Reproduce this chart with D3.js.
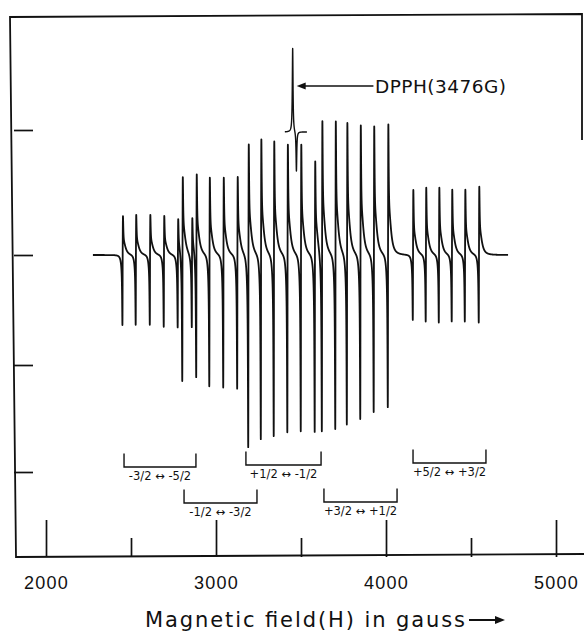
<!DOCTYPE html>
<html>
<head>
<meta charset="utf-8">
<script src="https://cdn.jsdelivr.net/npm/d3@7"></script>
<style>
  body { margin: 0; background: #fff; }
  svg { display: block; font-family: "DejaVu Sans", sans-serif; }
  .trace { fill: none; stroke: #111; stroke-width: 1.8; stroke-linejoin: round; }
  .frame { fill: none; stroke: #111; stroke-width: 1.8; }
  .axis path { display: none; }
  .axis line { stroke: #111; stroke-width: 1.7; }
  .axis text { fill: #111; font-size: 18px; letter-spacing: 1.2px; }
  .bracket { fill: none; stroke: #111; stroke-width: 1.4; }
  .blabel { font-size: 11.5px; fill: #111; }
</style>
</head>
<body>
<svg id="chart" width="584" height="631"></svg>
<script>
/* global d3 */
// field axis (gauss)
var fieldTicksMajor = [2000, 3000, 4000, 5000];
var fieldTicksMinor = [2500, 3500, 4500];
// left side ticks (arbitrary intensity units, 0 = baseline)
var intensityTicks = [12.5, 0, -11, -21.7];

// sweep of the recorder trace
var sweepStart = 2276;
var sweepEnd = 4718;

// hyperfine lines: field of the crossing, height of upper and lower lobe
var lineField = [
  2451, 2529, 2612, 2694, 2776, 2859,
  2803, 2885, 2962, 3044, 3126,
  3191, 3265, 3341, 3421, 3500, 3582,
  3624, 3703, 3771, 3850, 3929, 4012,
  4159, 4235, 4312, 4388, 4465, 4547
];
var lineTop = [
  3.9, 4.0, 4.0, 3.9, 3.8, 3.8,
  7.5, 7.7, 7.7, 7.7, 7.8,
  11.0, 11.5, 11.3, 11.0, 11.0, 9.4,
  13.1, 13.3, 13.1, 12.9, 12.8, 13.0,
  6.5, 6.7, 6.7, 6.5, 6.5, 6.8
];
var lineBottom = [
  -7.0, -7.0, -7.0, -7.2, -7.1, -7.2,
  -13.0, -12.7, -13.2, -13.3, -13.4,
  -19.3, -18.5, -18.2, -17.8, -17.7, -17.7,
  -18.0, -17.5, -17.1, -16.5, -15.8, -15.3,
  -6.5, -6.7, -6.8, -6.7, -6.7, -6.8
];

// fine structure groups (brackets under the spectrum)
var transitions = ["-3/2 \u2194 -5/2", "-1/2 \u2194 -3/2", "+1/2 \u2194 -1/2", "+3/2 \u2194 +1/2", "+5/2 \u2194 +3/2"];
var bracketStart = [2459, 2812, 3176, 3635, 4159];
var bracketEnd = [2882, 3241, 3618, 4065, 4588];
var bracketLevel = [-21.2, -24.8, -21.0, -24.7, -20.8];

// DPPH marker, drawn on its own offset trace
var dpphLabel = "DPPH(3476G)";
var dpphBase = 12.3;
var dpphPeakField = [3451, 3473];
var dpphPeakAmp = [8.4, -4.0];
var dpphSweep = [3405, 3535];

var svg = d3.select( "#chart" );
var width = 584;
var height = 631;

svg.append( "rect" ).attr( "width", width ).attr( "height", height ).attr( "fill", "#fff" );

var x = d3.scaleLinear().domain( [2000, 5000] ).range( [46, 556] );
var y = d3.scaleLinear().domain( [-30.2, 24] ).range( [557, 15] );

// frame (hand drawn, slightly skewed)
var frame = { left: 10, right: 582, top: 16, bottom: 557 };
svg.append( "path" )
  .attr( "class", "frame" )
  .attr( "d", "M" + frame.right + ",140 L" + frame.right + "," + ( frame.top - 2 ) +
    " L" + frame.left + "," + ( frame.top + 1 ) +
    " L" + ( frame.left + 6 ) + "," + frame.bottom +
    " L" + width + "," + ( frame.bottom - 3 ) );

// bottom ticks
svg.append( "g" ).attr( "class", "axis" )
  .attr( "transform", "translate(0," + frame.bottom + ")" )
  .call( d3.axisTop( x ).tickValues( fieldTicksMajor ).tickSize( 37 ).tickFormat( "" ) );
svg.append( "g" ).attr( "class", "axis" )
  .attr( "transform", "translate(0," + frame.bottom + ")" )
  .call( d3.axisTop( x ).tickValues( fieldTicksMinor ).tickSize( 19 ).tickFormat( "" ) );
svg.append( "g" ).attr( "class", "axis" )
  .attr( "transform", "translate(0," + frame.bottom + ")" )
  .call( d3.axisBottom( x ).tickValues( fieldTicksMajor ).tickSize( 0 ).tickPadding( 19 ).tickFormat( d3.format( "d" ) ) );

// left ticks
svg.append( "g" ).attr( "class", "axis" )
  .attr( "transform", "translate(" + ( frame.left + 4 ) + ",0)" )
  .call( d3.axisRight( y ).tickValues( intensityTicks ).tickSize( 19 ).tickFormat( "" ) );

// axis title
svg.append( "text" )
  .attr( "x", 145 ).attr( "y", 627 )
  .attr( "textLength", 320 ).attr( "lengthAdjust", "spacing" )
  .style( "font-size", "21px" ).style( "fill", "#111" )
  .text( "Magnetic field(H) in gauss" );
svg.append( "line" )
  .attr( "x1", 469 ).attr( "x2", 497 ).attr( "y1", 620 ).attr( "y2", 620 )
  .attr( "stroke", "#111" ).attr( "stroke-width", 2 );
svg.append( "path" )
  .attr( "d", "M505,620 L495,616 L495,624 Z" ).attr( "fill", "#111" );

// line shape: sharp drop to the lower lobe, then a slower tail after the top
function lobe( u ) { return 2 * u / ( ( 1 + u * u ) * ( 1 + u * u ) ) / 0.6495; }
function shape( d ) {
  if ( d < 0 ) return 0.88 * lobe( d / 2.5 ) + 0.12 * lobe( d / 9 );
  return 0.78 * lobe( d / 3 ) + 0.22 * lobe( d / 16 );
}
var minS = d3.min( d3.range( -30, 0, 0.05 ), shape );
var maxS = d3.max( d3.range( 0, 30, 0.05 ), shape );

function signal( g ) {
  var v = 0;
  for ( var i = 0; i < lineField.length; i++ ) {
    var d = g - lineField[i];
    if ( Math.abs( d ) > 400 ) continue;
    var s = shape( d );
    v += d < 0 ? ( s / minS ) * lineBottom[i] : ( s / maxS ) * lineTop[i];
  }
  return v;
}

var samples = d3.range( sweepStart, sweepEnd, 0.25 ).concat( [sweepEnd] );
var traceLine = d3.line()
  .x( function ( g ) { return x( g ); } )
  .y( function ( g ) { return y( signal( g ) ); } );

svg.append( "path" )
  .attr( "class", "trace" )
  .attr( "d", traceLine( samples ) );

// DPPH reference signal
function dpphSignal( g ) {
  var v = dpphBase;
  for ( var i = 0; i < dpphPeakField.length; i++ ) {
    var u = ( g - dpphPeakField[i] ) / 2.5;
    v += dpphPeakAmp[i] / ( 1 + u * u );
  }
  return v;
}
var dpphSamples = d3.range( dpphSweep[0], dpphSweep[1], 0.25 );
svg.append( "path" )
  .attr( "class", "trace" )
  .style( "stroke-width", 1.4 )
  .attr( "d", d3.line().x( function ( g ) { return x( g ); } ).y( function ( g ) { return y( dpphSignal( g ) ); } )( dpphSamples ) );

// DPPH arrow and label
var arrowY = y( 16.9 );
var tipX = x( dpphPeakField[0] ) + 4;
svg.append( "line" )
  .attr( "x1", tipX + 7 ).attr( "x2", x( 3926 ) )
  .attr( "y1", arrowY ).attr( "y2", arrowY )
  .attr( "stroke", "#111" ).attr( "stroke-width", 1.5 );
svg.append( "path" )
  .attr( "d", "M" + tipX + "," + arrowY + " L" + ( tipX + 9 ) + "," + ( arrowY - 3.5 ) + " L" + ( tipX + 9 ) + "," + ( arrowY + 3.5 ) + " Z" )
  .attr( "fill", "#111" );
svg.append( "text" )
  .attr( "x", x( 3935 ) ).attr( "y", y( 16.2 ) )
  .attr( "textLength", 131 ).attr( "lengthAdjust", "spacing" )
  .style( "font-size", "18.5px" ).style( "fill", "#111" )
  .text( dpphLabel );

// brackets marking the fine structure groups
var arm = 1.35;
var groups = svg.selectAll( ".group" )
  .data( transitions )
  .enter().append( "g" )
  .attr( "class", "group" );

groups.append( "path" )
  .attr( "class", "bracket" )
  .attr( "d", function ( d, i ) {
    var x1 = x( bracketStart[i] );
    var x2 = x( bracketEnd[i] );
    var yb = y( bracketLevel[i] );
    var yt = y( bracketLevel[i] + arm );
    return "M" + x1 + "," + yt + " V" + yb + " H" + x2 + " V" + yt;
  } );

groups.append( "text" )
  .attr( "class", "blabel" )
  .attr( "x", function ( d, i ) { return ( x( bracketStart[i] ) + x( bracketEnd[i] ) ) / 2; } )
  .attr( "y", function ( d, i ) { return y( bracketLevel[i] ) + 12.5; } )
  .attr( "text-anchor", "middle" )
  .text( function ( d ) { return d; } );
</script>
</body>
</html>
